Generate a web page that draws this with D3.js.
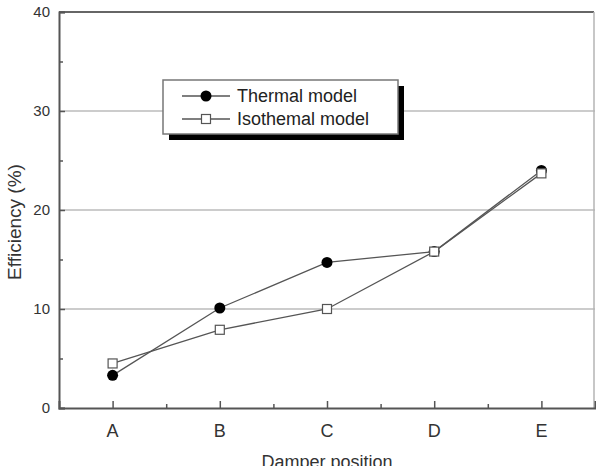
<!DOCTYPE html>
<html>
<head>
<meta charset="utf-8">
<script src="https://cdn.jsdelivr.net/npm/d3@7"></script>
<style>
    body { margin: 0; background: #fff; }
    svg { display: block; font-family: "Liberation Sans", Arial, sans-serif; }
</style>
</head>
<body>
<div id="chart"></div>
<script>
// data
const positions = ['A', 'B', 'C', 'D', 'E'];
const thermal = [3.3, 10.1, 14.7, 15.8, 24.0];
const isothermal = [4.5, 7.9, 10.0, 15.8, 23.7];
const yTicks = [0, 10, 20, 30, 40];
const yMinorTicks = [5, 15, 25, 35];
const seriesNames = ['Thermal model', 'Isothemal model'];

const width = 596,
    height = 466,
    margin = { top: 12, right: 1, bottom: 58, left: 59 };

let svg = d3.select('#chart')
    .append('svg')
    .attr('width', width)
    .attr('height', height);

let scaleX = d3.scaleLinear()
    .domain([0.5, 5.5])
    .range([margin.left, width - margin.right]);

let scaleY = d3.scaleLinear()
    .domain([0, 40])
    .range([height - margin.bottom, margin.top]);

// grid lines
svg.append('g')
    .selectAll('line')
    .data([10, 20, 30])
    .enter()
    .append('line')
    .attr('x1', scaleX(0.5))
    .attr('x2', scaleX(5.5))
    .attr('y1', d => scaleY(d))
    .attr('y2', d => scaleY(d))
    .attr('stroke', '#9a9a9a')
    .attr('stroke-width', 1.2);

// frame: top + right lighter
svg.append('line')
    .attr('x1', scaleX(0.5)).attr('x2', scaleX(5.5) - 1)
    .attr('y1', scaleY(40)).attr('y2', scaleY(40))
    .attr('stroke', '#666').attr('stroke-width', 2);
svg.append('line')
    .attr('x1', scaleX(5.5) - 1).attr('x2', scaleX(5.5) - 1)
    .attr('y1', scaleY(40)).attr('y2', scaleY(0))
    .attr('stroke', '#b5b5b5').attr('stroke-width', 1.5);

// y axis, ticks pointing inward
let yAxis = d3.axisRight(scaleY)
    .tickValues(yTicks)
    .tickSize(6)
    .tickFormat('');
let yAxisMinor = d3.axisRight(scaleY)
    .tickValues(yMinorTicks)
    .tickSize(4)
    .tickFormat('');

svg.append('g')
    .attr('transform', 'translate(' + scaleX(0.5) + ',0)')
    .call(yAxisMinor)
    .call(g => g.select('.domain').remove())
    .selectAll('line').attr('stroke', '#555').attr('stroke-width', 1.5);

svg.append('g')
    .attr('class', 'y-axis')
    .attr('transform', 'translate(' + scaleX(0.5) + ',0)')
    .call(yAxis)
    .call(g => g.select('.domain').attr('stroke', '#555').attr('stroke-width', 2))
    .call(g => g.selectAll('.tick line').attr('stroke', '#555').attr('stroke-width', 1.5));

svg.append('g')
    .selectAll('text')
    .data(yTicks)
    .enter()
    .append('text')
    .attr('x', 50)
    .attr('y', d => scaleY(d))
    .attr('dy', '0.35em')
    .attr('text-anchor', 'end')
    .attr('font-size', 15)
    .attr('fill', '#333')
    .text(d => d);

// x axis, ticks pointing up
let xAxis = d3.axisTop(scaleX)
    .tickValues([1, 2, 3, 4, 5])
    .tickSize(7)
    .tickFormat('');
let xAxisMinor = d3.axisTop(scaleX)
    .tickValues([1.5, 2.5, 3.5, 4.5])
    .tickSize(4)
    .tickFormat('');

svg.append('g')
    .attr('transform', 'translate(0,' + scaleY(0) + ')')
    .call(xAxisMinor)
    .call(g => g.select('.domain').remove())
    .selectAll('line').attr('stroke', '#555').attr('stroke-width', 1.5);

svg.append('g')
    .attr('class', 'x-axis')
    .attr('transform', 'translate(0,' + scaleY(0) + ')')
    .call(xAxis)
    .call(g => g.select('.domain').attr('stroke', '#555').attr('stroke-width', 2))
    .call(g => g.selectAll('.tick line').attr('stroke', '#555').attr('stroke-width', 1.5));

svg.append('g')
    .selectAll('text')
    .data(positions)
    .enter()
    .append('text')
    .attr('x', (d, k) => scaleX(k + 1))
    .attr('y', 437)
    .attr('text-anchor', 'middle')
    .attr('font-size', 18)
    .attr('fill', '#333')
    .text(d => d);

// axis titles (the x title is cut by the bottom edge in the original too)
svg.append('text')
    .attr('x', (scaleX(0.5) + scaleX(5.5)) / 2)
    .attr('y', 468)
    .attr('text-anchor', 'middle')
    .attr('font-size', 18)
    .attr('fill', '#333')
    .text('Damper position');

svg.append('text')
    .attr('transform', 'translate(21,222) rotate(-90)')
    .attr('text-anchor', 'middle')
    .attr('font-size', 19)
    .attr('fill', '#333')
    .text('Efficiency (%)');

// lines
let line = d3.line()
    .x((d, k) => scaleX(k + 1))
    .y(d => scaleY(d));

svg.append('g')
    .selectAll('path')
    .data([thermal, isothermal])
    .enter()
    .append('path')
    .attr('d', line)
    .attr('fill', 'none')
    .attr('stroke', '#555')
    .attr('stroke-width', 1.3);

// markers - squares drawn last so they sit over the circles at D and E
svg.append('g')
    .selectAll('circle')
    .data(thermal)
    .enter()
    .append('circle')
    .attr('cx', (d, k) => scaleX(k + 1))
    .attr('cy', d => scaleY(d))
    .attr('r', 5.5)
    .attr('fill', '#000');

svg.append('g')
    .selectAll('rect')
    .data(isothermal)
    .enter()
    .append('rect')
    .attr('x', (d, k) => scaleX(k + 1) - 4.5)
    .attr('y', d => scaleY(d) - 4.5)
    .attr('width', 9)
    .attr('height', 9)
    .attr('fill', '#fff')
    .attr('stroke', '#555')
    .attr('stroke-width', 1.2);

// legend
let legend = svg.append('g')
    .attr('class', 'legend');
legend.append('rect')
    .attr('x', 169).attr('y', 86)
    .attr('width', 235).attr('height', 54)
    .attr('fill', '#000');
legend.append('rect')
    .attr('x', 163).attr('y', 80)
    .attr('width', 235).attr('height', 54)
    .attr('fill', '#fff')
    .attr('stroke', '#777')
    .attr('stroke-width', 1.5);

let rows = legend.selectAll('.row')
    .data(seriesNames)
    .enter()
    .append('g')
    .attr('class', 'row')
    .attr('transform', (d, k) => 'translate(0,' + (96 + k * 23) + ')');
rows.append('line')
    .attr('x1', 182).attr('x2', 230)
    .attr('stroke', '#555').attr('stroke-width', 1.3);
rows.filter((d, k) => k === 0)
    .append('circle')
    .attr('cx', 206).attr('r', 5.5)
    .attr('fill', '#000');
rows.filter((d, k) => k === 1)
    .append('rect')
    .attr('x', 201.5).attr('y', -4.5)
    .attr('width', 9).attr('height', 9)
    .attr('fill', '#fff')
    .attr('stroke', '#555')
    .attr('stroke-width', 1.2);
rows.append('text')
    .attr('x', 237)
    .attr('dy', '0.35em')
    .attr('font-size', 18)
    .attr('fill', '#222')
    .text(d => d);
</script>
</body>
</html>
